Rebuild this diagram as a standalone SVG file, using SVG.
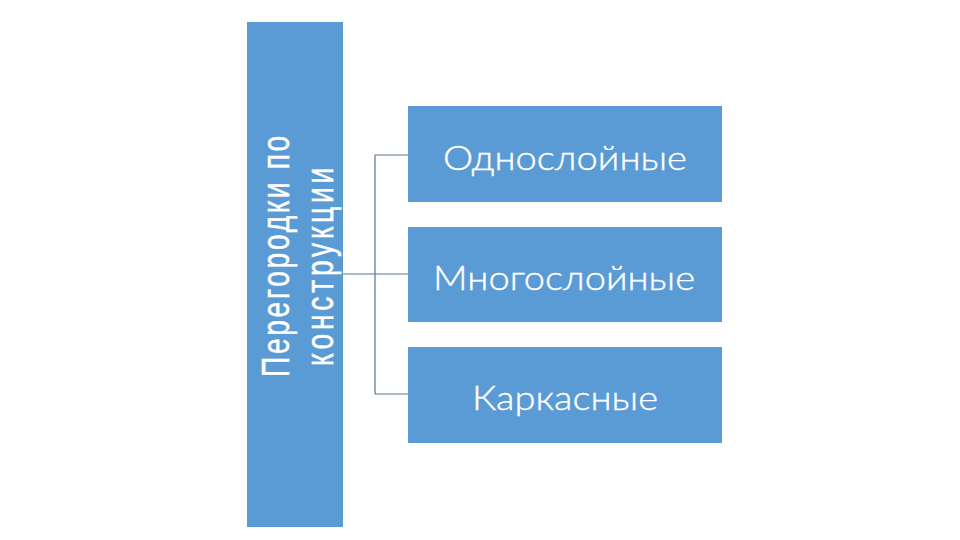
<svg xmlns="http://www.w3.org/2000/svg" width="960" height="540" viewBox="0 0 960 540">
<style>
.box{fill:#5b9bd5}
.lbl{font-family:Lato,"Open Sans","Liberation Sans",sans-serif;font-size:34px;font-weight:300;fill:#ffffff;stroke:#ffffff;stroke-width:0.35}
.vt{font-family:"Liberation Sans",Arial,sans-serif;font-size:38px;fill:#ffffff;stroke:#ffffff;stroke-width:0.5}
.con{fill:none;stroke:#5b7590;stroke-width:1.2}
</style>
<rect width="960" height="540" fill="#ffffff"/>
<g id="connectors">
<path class="con" d="M343,274 H408 M375,155 V394 M375,155 H408 M375,394 H408"/>
</g>
<g id="root">
<rect class="box" x="247" y="22" width="96" height="505"/>
<text class="vt" transform="translate(289,377) rotate(-90) scale(0.74,1)" textLength="326" lengthAdjust="spacing">Перегородки по</text>
<text class="vt" transform="translate(333,366) rotate(-90) scale(0.74,1)" textLength="268" lengthAdjust="spacing">конструкции</text>
</g>
<g id="n1">
<rect class="box" x="408" y="106" width="314" height="96"/>
<text class="lbl" x="443" y="170" textLength="244" lengthAdjust="spacingAndGlyphs">Однослойные</text>
</g>
<g id="n2">
<rect class="box" x="408" y="227" width="314" height="95"/>
<text class="lbl" x="433" y="290" textLength="262" lengthAdjust="spacingAndGlyphs">Многослойные</text>
</g>
<g id="n3">
<rect class="box" x="408" y="347" width="314" height="96"/>
<text class="lbl" x="472" y="410" textLength="186" lengthAdjust="spacingAndGlyphs">Каркасные</text>
</g>
</svg>
